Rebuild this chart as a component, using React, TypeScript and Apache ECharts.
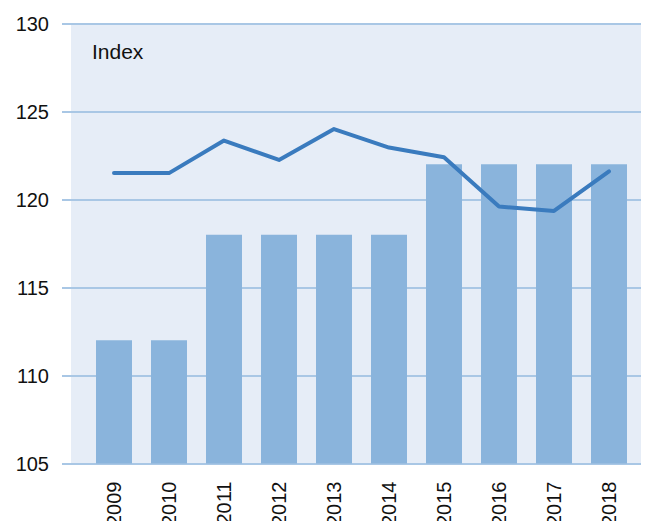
import React, { useEffect, useRef } from "react";
import * as echarts from "echarts";

const years = ["2009", "2010", "2011", "2012", "2013", "2014", "2015", "2016", "2017", "2018"];
const barValues = [112, 112, 118, 118, 118, 118, 122, 122, 122, 122];
const lineValues = [121.5, 121.5, 123.35, 122.25, 124.0, 122.95, 122.4, 119.6, 119.35, 121.6];
const yMin = 105;
const yMax = 130;
const yStep = 5;

export default function App() {
  const ref = useRef<HTMLDivElement>(null);
  useEffect(() => {
    if (!ref.current) return;
    const chart = echarts.init(ref.current, null, { renderer: "svg" });
    const top = 23.5;
    const bottom = 57.5;
    const font = "Liberation Sans, Arial, sans-serif";
    chart.setOption({
      animation: false,
      textStyle: { fontFamily: font },
      grid: [
        { left: 71, right: 4, top, bottom, show: true, backgroundColor: "#e6edf7", borderWidth: 0, z: 0, outerBoundsMode: "none", containLabel: false },
        { left: 62, right: 4, top, bottom, outerBoundsMode: "none", containLabel: false },
        { left: 86.5, right: 8.5, top, bottom, outerBoundsMode: "none", containLabel: false },
      ],
      xAxis: [
        { gridIndex: 0, type: "value", show: false },
        { gridIndex: 1, type: "value", show: false },
        {
          gridIndex: 2,
          type: "category",
          data: years,
          axisLine: { show: false },
          axisTick: { show: false },
          axisLabel: { rotate: 90, margin: 18, fontSize: 20, color: "#111", fontFamily: font },
        },
      ],
      yAxis: [
        { gridIndex: 0, type: "value", show: false, min: yMin, max: yMax },
        {
          gridIndex: 1,
          type: "value",
          min: yMin,
          max: yMax,
          interval: yStep,
          axisLine: { show: false },
          axisTick: { show: false },
          axisLabel: { margin: 13, fontSize: 20, color: "#111", fontFamily: font },
          splitLine: { lineStyle: { color: "#a9c7e5", width: 2 } },
        },
        { gridIndex: 2, type: "value", show: false, min: yMin, max: yMax, splitLine: { show: false } },
      ],
      graphic: [
        {
          type: "text",
          left: 92,
          top: 41,
          style: { text: "Index", fontSize: 21, fill: "#111", fontFamily: font },
        },
      ],
      series: [
        {
          type: "bar",
          xAxisIndex: 2,
          yAxisIndex: 2,
          data: barValues,
          barWidth: 36,
          itemStyle: { color: "#8ab4dc" },
          z: 2,
        },
        {
          type: "line",
          xAxisIndex: 2,
          yAxisIndex: 2,
          data: lineValues,
          symbol: "none",
          lineStyle: { color: "#3a7bbe", width: 4, cap: "round", join: "round" },
          z: 3,
        },
      ],
    });
    return () => chart.dispose();
  }, []);
  return <div ref={ref} style={{ width: 645, height: 521, position: "absolute", left: 0, top: 0 }} />;
}
